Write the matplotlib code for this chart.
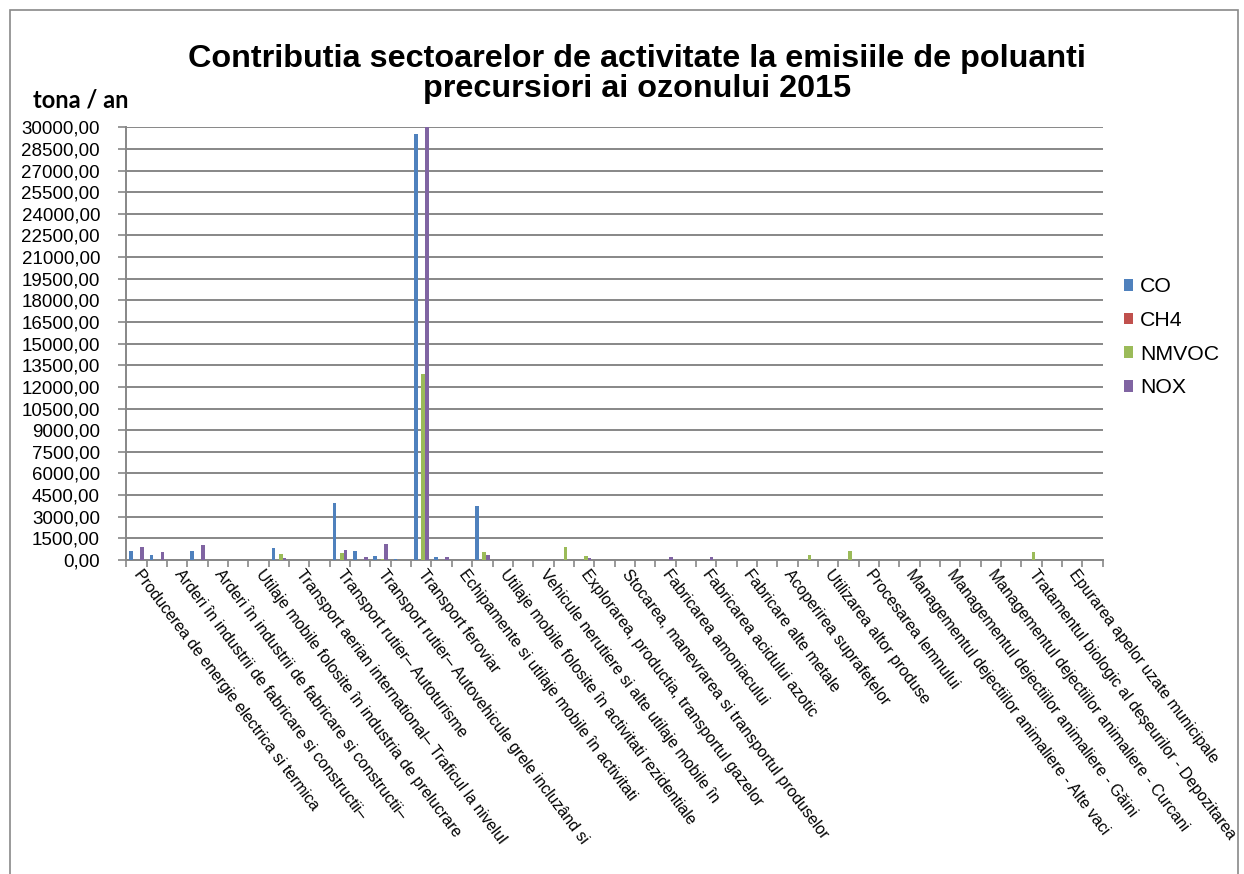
import numpy as np
import matplotlib
matplotlib.use("Agg")
import matplotlib.pyplot as plt
from matplotlib.patches import Rectangle
from matplotlib.ticker import FuncFormatter, MultipleLocator

plt.rcParams['font.family'] = ['Liberation Sans', 'DejaVu Sans']

categories = [
    "Producerea de energie electrica si termica",
    "Rafinarea petrolului",
    "Arderi în industrii de fabricare si constructii–",
    "Arderi în industrii de fabricare si constructii– Metale neferoase",
    "Arderi în industrii de fabricare si constructii–",
    "Arderi în industrii de fabricare si constructii– Alte",
    "Utilaje mobile folosite în industria de prelucrare",
    "Transport aerian national– Traficul la nivelul solului",
    "Transport aerian international– Traficul la nivelul",
    "Transport aerian national– Croaziera",
    "Transport rutier– Autoturisme",
    "Transport rutier– Vehicule usoare",
    "Transport rutier– Autovehicule grele incluzând si",
    "Transport rutier– Mopede si motociclete",
    "Transport feroviar",
    "Navigatie nationala",
    "Echipamente si utilaje mobile în activitati",
    "Surse stationare rezidentiale",
    "Utilaje mobile folosite în activitati rezidentiale",
    "Agricultura– Surse stationare",
    "Vehicule nerutiere si alte utilaje mobile în",
    "Explorarea, productia, transportul petrolului",
    "Explorarea, productia, transportul gazelor",
    "Distributia gazelor",
    "Stocarea, manevrarea si transportul produselor",
    "Productia cimentului",
    "Fabricarea amoniacului",
    "Industria chimica– Alte",
    "Fabricarea acidului azotic",
    "Productia de fier si otel",
    "Fabricare alte metale",
    "Solventi– Utilizare casnica",
    "Acoperirea suprafețelor",
    "Degresare",
    "Utilizarea altor produse",
    "Asfaltarea drumurilor",
    "Procesarea lemnului",
    "Managementul dejectiilor animaliere - Vaci de lapte",
    "Managementul dejectiilor animaliere - Alte vaci",
    "Managementul dejectiilor animaliere - Porci",
    "Managementul dejectiilor animaliere - Găini",
    "Managementul dejectiilor animaliere - Brojleri",
    "Managementul dejectiilor animaliere - Curcani",
    "Depozitarea deșeurilor solide",
    "Tratamentul biologic al deșeurilor - Depozitarea",
    "Incinerarea deșeurilor",
    "Epurarea apelor uzate municipale",
    "Alte deșeuri",
]

series_names = ["CO", "CH4", "NMVOC", "NOX"]
series_colors = ["#4F81BD", "#C0504D", "#9BBB59", "#8064A2"]

co = [646, 370, 0, 625, 0, 30, 0, 856, 0, 0, 3958, 602, 300, 60, 29550, 190,
      0, 3750, 0, 0, 0, 0, 20, 0, 0, 0, 0, 0, 0, 0, 0, 0,
      0, 0, 0, 0, 0, 0, 0, 0, 0, 0, 0, 0, 0, 0, 0, 0]
ch4 = [5, 2, 0, 3, 0, 1, 0, 2, 0, 0, 10, 2, 2, 1, 20, 1,
       0, 15, 0, 0, 0, 0, 10, 0, 0, 0, 0, 0, 0, 0, 0, 0,
       0, 0, 0, 0, 0, 0, 0, 0, 15, 0, 0, 0, 5, 0, 0, 0]
nmvoc = [20, 10, 0, 15, 0, 5, 0, 440, 0, 0, 463, 30, 40, 10, 12900, 20,
         0, 556, 0, 0, 0, 900, 280, 0, 0, 0, 0, 0, 0, 0, 0, 0,
         15, 320, 0, 650, 0, 0, 0, 0, 0, 0, 0, 0, 530, 0, 0, 0]
nox = [925, 578, 0, 1040, 0, 20, 0, 140, 0, 0, 672, 208, 1132, 15, 30000, 230,
       0, 350, 0, 0, 0, 0, 140, 0, 0, 0, 210, 0, 210, 0, 0, 0,
       0, 0, 0, 0, 0, 0, 0, 0, 0, 0, 0, 0, 0, 0, 0, 0]

series_values = [co, ch4, nmvoc, nox]

W, H = 1244, 874
fig = plt.figure(figsize=(W / 100, H / 100), dpi=100)
ax = fig.add_axes([126.4 / W, 1 - 560 / H, (1102.7 - 126.4) / W, (560 - 127.3) / H])

n = len(categories)
x = np.arange(n)
bw = 1 / 5.5
offsets = [-1.5 * bw, -0.5 * bw, 0.5 * bw, 1.5 * bw]
for vals, name, col, off in zip(series_values, series_names, series_colors, offsets):
    ax.bar(x + off, vals, width=bw, color=col, label=name, zorder=3, linewidth=0)

grid_col = "#878787"
ax.set_xlim(-0.5, n - 0.5)
ax.set_ylim(0, 30000)
ax.yaxis.set_major_locator(MultipleLocator(1500))
ax.yaxis.set_major_formatter(FuncFormatter(lambda v, p: f"{v:.2f}".replace('.', ',')))
ax.grid(axis='y', color=grid_col, linewidth=1.4, zorder=0)
for s in ['top', 'right']:
    ax.spines[s].set_visible(False)
for s in ['left', 'bottom']:
    ax.spines[s].set_color(grid_col)
    ax.spines[s].set_linewidth(1.4)
ax.tick_params(axis='y', colors=grid_col, labelcolor='black', labelsize=13.5,
               length=6, width=1.2, pad=13)

# x ticks at category boundaries, labels every other category
ax.set_xticks(np.arange(n + 1) - 0.5)
ax.set_xticklabels([])
ax.tick_params(axis='x', which='major', colors=grid_col, length=5, width=1.2)
lab_idx = list(range(0, n, 2))
ax.set_xticks(lab_idx, minor=True)
ax.set_xticklabels([categories[i] for i in lab_idx], minor=True, rotation=-53,
                   ha='left', va='center', rotation_mode='anchor', fontsize=11.4)
ax.tick_params(axis='x', which='minor', length=0, pad=8, labelcolor='black')

fig.text(0.512, 1 - 74 / H, "Contributia sectoarelor de activitate la emisiile de poluanti\nprecursiori ai ozonului 2015",
         ha='center', va='center', fontsize=23.3, fontweight='bold', linespacing=1.0)
fig.text(33 / W, 1 - 100 / H, "tona / an", ha='left', va='center', fontsize=17,
         fontweight='bold', family=['Lato', 'DejaVu Sans'])

ax.legend(loc='upper left', bbox_to_anchor=(1115 / W, 1 - 269 / H), bbox_transform=fig.transFigure,
          frameon=False, fontsize=15.3, handlelength=0.47, handleheight=0.47,
          handletextpad=0.3, labelspacing=0.69, borderaxespad=0)

fig.patches.append(Rectangle((10 / W, -0.05), (1238 - 10) / W, 1.05 - 10 / H,
                             transform=fig.transFigure, fill=False,
                             edgecolor="#898989", linewidth=1.2))

fig.savefig("out.png", dpi=100)
